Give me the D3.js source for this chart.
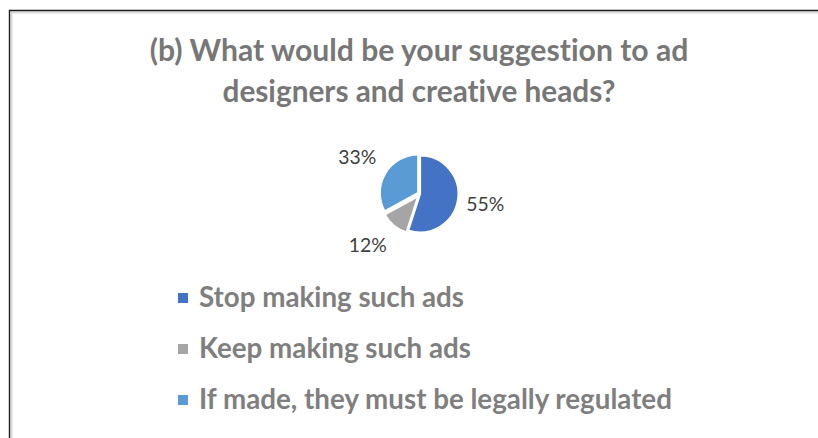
<!DOCTYPE html>
<html>
<head>
<meta charset="utf-8">
<script src="https://cdn.jsdelivr.net/npm/d3@7"></script>
<style>
  html, body { margin: 0; padding: 0; background: #fff; }
  svg { display: block; }
  text { font-variant-ligatures: none; font-feature-settings: "liga" 0; }
</style>
</head>
<body>
<svg id="chart" width="818" height="438"></svg>
<script>
// Survey answers
const categories = ["Stop making such ads", "Keep making such ads", "If made, they must be legally regulated"];
const shares = [55, 12, 33];
const valueLabels = ["55%", "12%", "33%"];
const titleLines = ["(b) What would be your suggestion to ad", "designers and creative heads?"];

const colors = ["#4472C4", "#A5A5A5", "#5B9BD5"];
const fontFamily = "Lato, 'Open Sans', 'Liberation Sans', sans-serif";

const svg = d3.select("#chart");

// Fit a text element to a given width by adjusting its font size
function fitWidth(sel, width) {
  const node = sel.node();
  const size = parseFloat(sel.attr("font-size"));
  const len = node.getComputedTextLength();
  sel.attr("font-size", (size * width / len).toFixed(2));
}

// Frame: dark edge with a soft inner shadow line
svg.append("path")
  .attr("d", "M11.5,438 V12.5 H818")
  .attr("fill", "none").attr("stroke", "#d9d9d9").attr("stroke-width", 2);
svg.append("path")
  .attr("d", "M9.5,438 V10.5 H818")
  .attr("fill", "none").attr("stroke", "#1a1a1a").attr("stroke-width", 1.4);

// Title
const titleSpecs = [{ y: 61, w: 539 }, { y: 102, w: 393 }];
titleLines.forEach((t, i) => {
  const el = svg.append("text")
    .attr("x", 419).attr("y", titleSpecs[i].y)
    .attr("text-anchor", "middle")
    .attr("font-family", fontFamily).attr("font-weight", "bold")
    .attr("font-size", 28).attr("fill", "#777777")
    .text(t);
  fitWidth(el, titleSpecs[i].w);
});

// Pie
const cx = 420, cy = 194, radius = 38.5;
const pie = d3.pie().sort(null).value(d => d).startAngle(0).endAngle(2 * Math.PI);
const arcs = pie(shares);
const arc = d3.arc().innerRadius(0).outerRadius(radius);
const explode = [0, 2.5, 2];

const g = svg.append("g").attr("transform", `translate(${cx},${cy})`);
g.selectAll("path.slice")
  .data(arcs)
  .join("path")
  .attr("class", "slice")
  .attr("d", arc)
  .attr("transform", (d, i) => {
    const a = (d.startAngle + d.endAngle) / 2;
    return `translate(${Math.sin(a) * explode[i]},${-Math.cos(a) * explode[i]})`;
  })
  .attr("fill", (d, i) => colors[i])
  .attr("stroke", "#fff").attr("stroke-width", 2.2).attr("stroke-linejoin", "round");

// Data labels placed outside along each slice's mid-angle
const labelPlace = [{ r: 66, dx: 0, dy: 0 }, { r: 68, dx: -9, dy: -1 }, { r: 73, dx: 0, dy: 0 }];
g.selectAll("text.value")
  .data(arcs)
  .join("text")
  .attr("class", "value")
  .attr("x", (d, i) => Math.sin((d.startAngle + d.endAngle) / 2) * labelPlace[i].r + labelPlace[i].dx)
  .attr("y", (d, i) => -Math.cos((d.startAngle + d.endAngle) / 2) * labelPlace[i].r + labelPlace[i].dy)
  .attr("dy", "0.36em")
  .attr("text-anchor", "middle")
  .attr("font-family", fontFamily)
  .attr("font-size", 20).attr("fill", "#404040")
  .text((d, i) => valueLabels[i])
  .each(function () { fitWidth(d3.select(this), 38); });

// Legend
const legendY = d3.scalePoint().domain(categories).range([307, 409]);
const legend = svg.append("g");
categories.forEach((c, i) => {
  const y = legendY(c);
  legend.append("rect")
    .attr("x", 178).attr("y", y - 14).attr("width", 10).attr("height", 10)
    .attr("fill", colors[i]);
  const el = legend.append("text")
    .attr("x", 199).attr("y", y)
    .attr("font-family", fontFamily).attr("font-weight", "bold")
    .attr("font-size", 24).attr("fill", "#7f7f7f")
    .text(c);
  if (i === 2) fitWidth(el, 473);
});
// Keep the legend in one consistent size
const legendSize = legend.selectAll("text").filter((d, i) => i === 2).attr("font-size");
legend.selectAll("text").attr("font-size", legendSize);
</script>
</body>
</html>
